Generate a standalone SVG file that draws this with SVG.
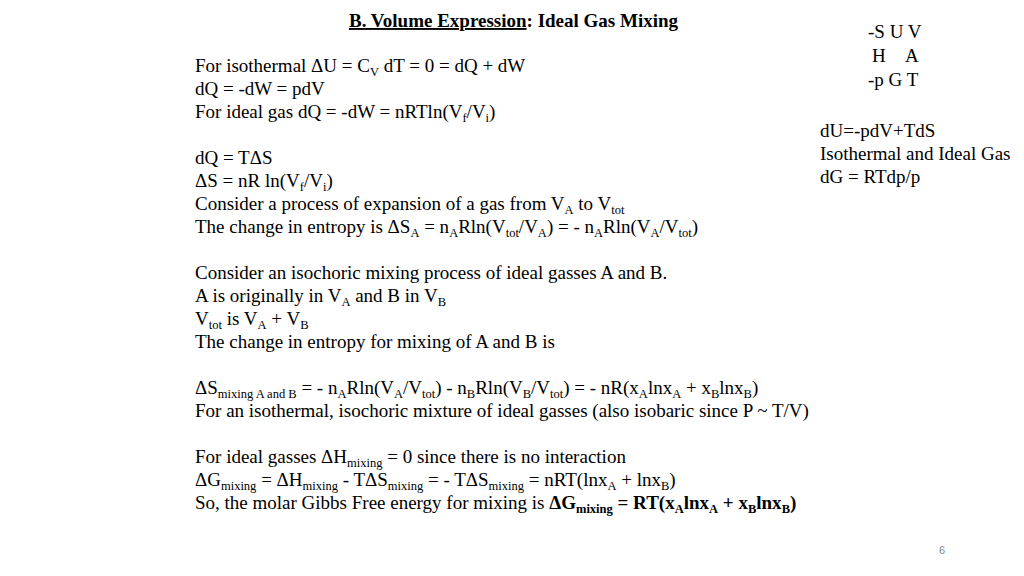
<svg xmlns="http://www.w3.org/2000/svg" width="1024" height="576" viewBox="0 0 1024 576">
<style>
text{font-family:"Liberation Serif","Times New Roman",serif;font-size:19px;fill:#000}
.b{font-weight:bold}
.s{font-size:12.5px}
.pg{font-family:"Liberation Sans",Arial,sans-serif;font-size:11px;fill:#888}
</style>
<rect width="1024" height="576" fill="#fff"/>
<g id="title"><text x="349" y="27" class="b"><tspan text-decoration="underline">B. Volume Expression</tspan>:  Ideal Gas Mixing</text></g>
<g id="body">
<text x="195" y="72">For isothermal ΔU = C<tspan class="s" dy="4">V</tspan><tspan dy="-4"> dT = 0 = dQ + dW</tspan></text>
<text x="195" y="95">dQ = -dW = pdV</text>
<text x="195" y="118">For ideal gas dQ = -dW = nRTln(V<tspan class="s" dy="4">f</tspan><tspan dy="-4">/V</tspan><tspan class="s" dy="4">i</tspan><tspan dy="-4">)</tspan></text>
<text x="195" y="164">dQ = TΔS</text>
<text x="195" y="187">ΔS = nR ln(V<tspan class="s" dy="4">f</tspan><tspan dy="-4">/V</tspan><tspan class="s" dy="4">i</tspan><tspan dy="-4">)</tspan></text>
<text x="195" y="210">Consider a process of expansion of a gas from V<tspan class="s" dy="4">A</tspan><tspan dy="-4"> to V</tspan><tspan class="s" dy="4">tot</tspan></text>
<text x="195" y="233">The change in entropy is ΔS<tspan class="s" dy="4">A</tspan><tspan dy="-4"> = n</tspan><tspan class="s" dy="4">A</tspan><tspan dy="-4">Rln(V</tspan><tspan class="s" dy="4">tot</tspan><tspan dy="-4">/V</tspan><tspan class="s" dy="4">A</tspan><tspan dy="-4">) = - n</tspan><tspan class="s" dy="4">A</tspan><tspan dy="-4">Rln(V</tspan><tspan class="s" dy="4">A</tspan><tspan dy="-4">/V</tspan><tspan class="s" dy="4">tot</tspan><tspan dy="-4">)</tspan></text>
<text x="195" y="279">Consider an isochoric mixing process of ideal gasses A and B.</text>
<text x="195" y="302">A is originally in V<tspan class="s" dy="4">A</tspan><tspan dy="-4"> and B in V</tspan><tspan class="s" dy="4">B</tspan></text>
<text x="195" y="325">V<tspan class="s" dy="4">tot</tspan><tspan dy="-4"> is V</tspan><tspan class="s" dy="4">A</tspan><tspan dy="-4"> + V</tspan><tspan class="s" dy="4">B</tspan></text>
<text x="195" y="348">The change in entropy for mixing of A and B is</text>
<text x="195" y="394">ΔS<tspan class="s" dy="4">mixing A and B</tspan><tspan dy="-4"> = - n</tspan><tspan class="s" dy="4">A</tspan><tspan dy="-4">Rln(V</tspan><tspan class="s" dy="4">A</tspan><tspan dy="-4">/V</tspan><tspan class="s" dy="4">tot</tspan><tspan dy="-4">) - n</tspan><tspan class="s" dy="4">B</tspan><tspan dy="-4">Rln(V</tspan><tspan class="s" dy="4">B</tspan><tspan dy="-4">/V</tspan><tspan class="s" dy="4">tot</tspan><tspan dy="-4">) = - nR(x</tspan><tspan class="s" dy="4">A</tspan><tspan dy="-4">lnx</tspan><tspan class="s" dy="4">A</tspan><tspan dy="-4"> + x</tspan><tspan class="s" dy="4">B</tspan><tspan dy="-4">lnx</tspan><tspan class="s" dy="4">B</tspan><tspan dy="-4">)</tspan></text>
<text x="195" y="417">For an isothermal, isochoric mixture of ideal gasses (also isobaric since P ~ T/V)</text>
<text x="195" y="463">For ideal gasses ΔH<tspan class="s" dy="4">mixing</tspan><tspan dy="-4"> = 0 since there is no interaction</tspan></text>
<text x="195" y="486">ΔG<tspan class="s" dy="4">mixing</tspan><tspan dy="-4"> = ΔH</tspan><tspan class="s" dy="4">mixing</tspan><tspan dy="-4"> - TΔS</tspan><tspan class="s" dy="4">mixing</tspan><tspan dy="-4"> = - TΔS</tspan><tspan class="s" dy="4">mixing</tspan><tspan dy="-4"> = nRT(lnx</tspan><tspan class="s" dy="4">A</tspan><tspan dy="-4"> + lnx</tspan><tspan class="s" dy="4">B</tspan><tspan dy="-4">)</tspan></text>
<text x="195" y="509">So, the molar Gibbs Free energy for mixing is <tspan class="b">ΔG</tspan><tspan class="s b" dy="4">mixing</tspan><tspan class="b" dy="-4"> = RT(x</tspan><tspan class="s b" dy="4">A</tspan><tspan class="b" dy="-4">lnx</tspan><tspan class="s b" dy="4">A</tspan><tspan class="b" dy="-4"> + x</tspan><tspan class="s b" dy="4">B</tspan><tspan class="b" dy="-4">lnx</tspan><tspan class="s b" dy="4">B</tspan><tspan class="b" dy="-4">)</tspan></text>
</g>
<g id="side">
<text x="868" y="38">-S U V</text>
<text x="872" y="62">H</text>
<text x="905" y="62">A</text>
<text x="868" y="86">-p G T</text>
<text x="820" y="137">dU=-pdV+TdS</text>
<text x="820" y="160">Isothermal and Ideal Gas</text>
<text x="820" y="183">dG = RTdp/p</text>
</g>
<text x="939" y="554" class="pg">6</text>
</svg>
